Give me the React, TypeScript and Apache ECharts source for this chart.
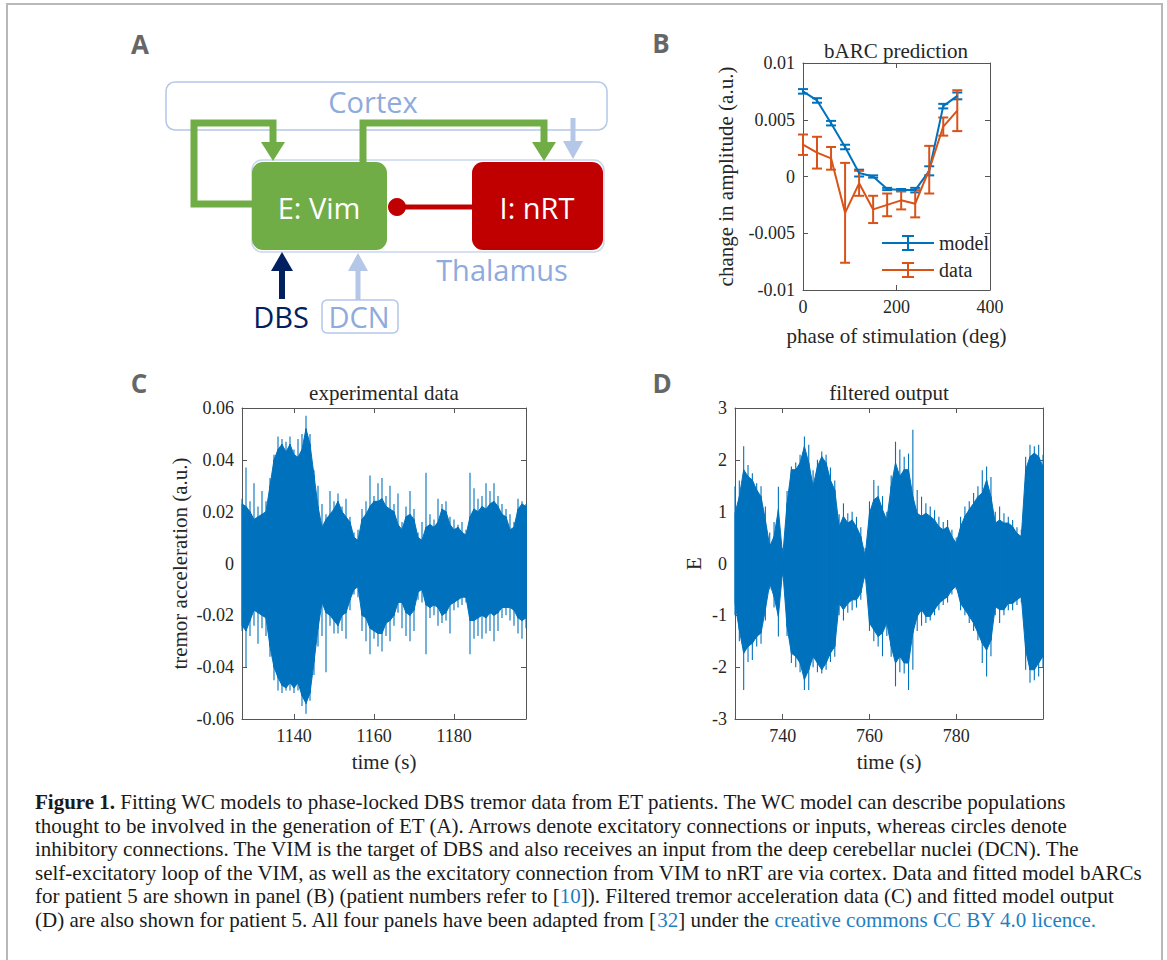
import React, { useEffect, useRef } from "react";
import * as echarts from "echarts";

// ---------- Panel B data (bARC) ----------
const phaseDeg = [0, 30, 60, 90, 120, 150, 180, 210, 240, 270, 300, 330];
const modelMean = [0.0075, 0.0067, 0.0047, 0.0026, 0.0003, 0.0, -0.0011, -0.0012, -0.0012, 0.0005, 0.0062, 0.0071];
const modelErr = [0.0002, 0.0002, 0.0002, 0.0002, 0.0003, 0.0001, 0.0001, 0.0001, 0.0002, 0.0004, 0.0002, 0.0003];
const dataMean = [0.0028, 0.0021, 0.0016, -0.0032, -0.0006, -0.0029, -0.0025, -0.0021, -0.0024, 0.0006, 0.0044, 0.0058];
const dataErr = [0.0009, 0.0014, 0.001, 0.0044, 0.0011, 0.0012, 0.001, 0.0008, 0.0012, 0.0021, 0.0008, 0.0018];

// ---------- Panel C data (experimental tremor, 1 s bins from 1127 s) ----------
const cStart = 1127;
const cCoreHi = [
  0.023, 0.022, 0.02, 0.017, 0.018, 0.019, 0.02, 0.03, 0.04, 0.044,
  0.046, 0.043, 0.046, 0.042, 0.041, 0.044, 0.052, 0.046, 0.034, 0.022,
  0.014, 0.017, 0.019, 0.021, 0.024, 0.02, 0.018, 0.016, 0.01, 0.009,
  0.017, 0.019, 0.022, 0.024, 0.024, 0.025, 0.022, 0.021, 0.02, 0.015,
  0.013, 0.018, 0.019, 0.017, 0.01, 0.009, 0.014, 0.015, 0.014, 0.016,
  0.021, 0.02, 0.015, 0.013, 0.014, 0.012, 0.011, 0.018, 0.021, 0.02,
  0.022, 0.021, 0.023, 0.024, 0.022, 0.019, 0.018, 0.013, 0.014, 0.021,
  0.023, 0.022,
];
const cCoreLo = [
  -0.024, -0.026, -0.022, -0.018, -0.019, -0.02, -0.021, -0.032, -0.04, -0.044,
  -0.047, -0.048, -0.046, -0.048, -0.046, -0.051, -0.054, -0.05, -0.038, -0.025,
  -0.015, -0.019, -0.02, -0.022, -0.024, -0.02, -0.019, -0.014, -0.01, -0.009,
  -0.02, -0.021, -0.025, -0.026, -0.027, -0.027, -0.023, -0.022, -0.02, -0.015,
  -0.015, -0.019, -0.02, -0.018, -0.011, -0.01, -0.016, -0.017, -0.016, -0.017,
  -0.02, -0.019, -0.016, -0.015, -0.014, -0.013, -0.013, -0.022, -0.022, -0.021,
  -0.02, -0.021, -0.019, -0.02, -0.019, -0.017, -0.017, -0.017, -0.018, -0.021,
  -0.022, -0.021,
];
const cPeakHi = [
  0.025, 0.037, 0.024, 0.031, 0.022, 0.028, 0.024, 0.033, 0.042, 0.049,
  0.048, 0.047, 0.049, 0.044, 0.048, 0.05, 0.057, 0.05, 0.036, 0.03,
  0.023, 0.019, 0.028, 0.024, 0.027, 0.022, 0.025, 0.018, 0.012, 0.013,
  0.021, 0.024, 0.034, 0.026, 0.031, 0.033, 0.026, 0.03, 0.023, 0.027,
  0.016, 0.022, 0.028, 0.021, 0.012, 0.016, 0.035, 0.019, 0.017, 0.025,
  0.023, 0.024, 0.018, 0.017, 0.015, 0.016, 0.013, 0.035, 0.029, 0.025,
  0.026, 0.031, 0.028, 0.031, 0.026, 0.023, 0.021, 0.019, 0.016, 0.025,
  0.024, 0.023,
];
const cPeakLo = [
  -0.026, -0.04, -0.028, -0.024, -0.031, -0.025, -0.028, -0.036, -0.045, -0.049,
  -0.05, -0.049, -0.049, -0.05, -0.049, -0.055, -0.058, -0.053, -0.043, -0.032,
  -0.028, -0.042, -0.024, -0.027, -0.027, -0.026, -0.029, -0.018, -0.012, -0.013,
  -0.026, -0.03, -0.035, -0.029, -0.032, -0.034, -0.028, -0.03, -0.024, -0.019,
  -0.025, -0.028, -0.03, -0.026, -0.014, -0.015, -0.035, -0.021, -0.02, -0.024,
  -0.023, -0.022, -0.027, -0.018, -0.017, -0.016, -0.015, -0.035, -0.029, -0.028,
  -0.029, -0.027, -0.026, -0.03, -0.026, -0.021, -0.02, -0.022, -0.024, -0.027,
  -0.029, -0.025,
];
const cTicks = [1140, 1160, 1180];

// ---------- Panel D data (filtered model output, 1 s bins from 729 s) ----------
const dStart = 729;
const dCoreHi = [
  0.97, 1.29, 1.81, 1.68, 1.61, 1.42, 1.29, 0.84, 0.33, 0.52,
  1.04, 0.14, 1.16, 1.81, 1.81, 1.94, 2.26, 1.94, 1.49, 1.87,
  2.06, 1.94, 1.61, 1.42, 0.71, 0.91, 0.78, 0.84, 0.71, 0.52,
  0.14, 0.97, 1.23, 1.29, 1.04, 0.84, 1.49, 1.94, 1.68, 1.81,
  1.81, 1.29, 0.97, 0.91, 0.97, 0.91, 0.84, 0.71, 0.65, 0.71,
  0.52, 0.39, 0.71, 0.91, 1.04, 1.16, 1.29, 1.36, 1.61, 1.29,
  0.78, 0.84, 0.78, 0.78, 0.71, 0.58, 0.52, 1.81, 2.06, 2.13,
  2.06, 1.87,
];
const dCoreLo = [
  -0.77, -1.28, -1.73, -1.6, -1.54, -1.41, -1.34, -0.89, -0.38, -0.64,
  -1.02, -0.12, -1.22, -1.73, -1.79, -1.92, -2.24, -2.05, -1.79, -1.92,
  -2.05, -1.92, -1.73, -1.6, -0.77, -0.89, -0.77, -0.7, -0.7, -0.57,
  -0.19, -1.15, -1.28, -1.41, -1.34, -1.15, -1.6, -1.92, -1.79, -1.92,
  -1.92, -1.34, -1.02, -0.89, -1.02, -1.02, -0.89, -0.77, -0.7, -0.64,
  -0.51, -0.44, -0.77, -0.89, -1.02, -1.15, -1.34, -1.54, -1.67, -1.48,
  -0.83, -0.89, -0.89, -0.77, -0.77, -0.7, -0.64, -1.67, -2.05, -2.05,
  -1.92, -1.79,
];
const dPeakHi = [
  1.49, 1.6, 2.26, 1.9, 1.74, 1.55, 1.49, 1.1, 0.6, 0.8,
  1.48, 0.3, 1.4, 1.87, 1.95, 2.1, 2.45, 2.29, 1.8, 2.0,
  2.16, 2.1, 1.85, 1.6, 0.95, 1.16, 0.97, 1.0, 0.9, 0.7,
  0.3, 1.2, 1.61, 1.5, 1.3, 1.0, 1.7, 2.35, 2.2, 2.06,
  2.12, 2.58, 1.42, 1.29, 1.16, 1.1, 1.03, 0.9, 0.8, 0.84,
  0.65, 0.5, 0.9, 1.1, 1.2, 1.36, 1.49, 1.8, 1.87, 1.67,
  1.0, 1.1, 0.97, 0.9, 0.84, 0.7, 0.65, 2.06, 2.29, 2.26,
  2.29, 2.1,
];
const dPeakLo = [
  -1.0, -1.5, -2.44, -1.9, -1.86, -1.6, -1.55, -1.1, -0.5, -0.85,
  -1.41, -0.25, -1.4, -1.92, -2.0, -2.1, -2.44, -2.44, -2.0, -2.1,
  -2.12, -2.05, -1.9, -1.8, -1.0, -1.1, -0.95, -0.9, -0.85, -0.7,
  -0.3, -1.3, -1.5, -1.6, -1.79, -1.4, -1.8, -2.37, -2.1, -2.12,
  -2.44, -2.05, -1.3, -1.2, -1.15, -1.1, -1.0, -0.9, -0.8, -0.75,
  -0.6, -0.5, -0.9, -1.0, -1.15, -1.3, -1.48, -1.92, -2.18, -1.79,
  -1.0, -1.15, -1.0, -0.9, -0.9, -0.8, -0.75, -2.05, -2.3, -2.25,
  -2.18, -2.0,
];
const dTicks = [740, 760, 780];

// ---------- Caption ----------
const captionLines = [
  "{b|Figure 1.} Fitting WC models to phase-locked DBS tremor data from ET patients. The WC model can describe populations",
  "thought to be involved in the generation of ET (A). Arrows denote excitatory connections or inputs, whereas circles denote",
  "inhibitory connections. The VIM is the target of DBS and also receives an input from the deep cerebellar nuclei (DCN). The",
  "self-excitatory loop of the VIM, as well as the excitatory connection from VIM to nRT are via cortex. Data and fitted model bARCs",
  "for patient 5 are shown in panel (B) (patient numbers refer to [{l|10}]). Filtered tremor acceleration data (C) and fitted model output",
  "(D) are also shown for patient 5. All four panels have been adapted from [{l|32}] under the {l|creative commons CC BY 4.0 licence.}",
];

// ---------- Styles ----------
const BLUE = "#0072BD";
const ORANGE = "#D95319";
const SERIF = "'Liberation Serif', 'Times New Roman', serif";
const SANS = "'Open Sans', 'Noto Sans', sans-serif";
const BOX = "#555555";
const TXT = "#262626";
const LBL = 18;
const NAME = 21;
const CAP = 21;
const LB = "#b4c7e7";
const LBT = "#8faadc";
const GREEN = "#70ad47";
const RED = "#c00000";
const NAVY = "#002060";

const fmt = (v: number) => String(+Number(v).toFixed(6));

function makeAxis(o: any) {
  const showLabel = o.showLabel !== false;
  const ax: any = {
    type: "value",
    gridIndex: o.grid,
    position: o.position,
    min: o.min,
    max: o.max,
    axisLine: { show: true, onZero: false, lineStyle: { color: BOX, width: 1 } },
    axisTick: { show: true, inside: true, length: 5, lineStyle: { color: BOX, width: 1 } },
    splitLine: { show: false },
    axisLabel: {
      show: showLabel,
      color: TXT,
      fontFamily: SERIF,
      fontSize: LBL,
      margin: o.margin ?? 8,
      formatter: fmt,
    },
  };
  if (o.interval !== undefined) ax.interval = o.interval;
  if (o.customValues) {
    ax.axisTick.customValues = o.customValues;
    ax.axisLabel.customValues = o.customValues;
  }
  if (o.name) {
    ax.name = o.name;
    ax.nameLocation = "middle";
    ax.nameGap = o.nameGap;
    ax.nameTextStyle = { color: TXT, fontFamily: SERIF, fontSize: NAME };
  }
  return ax;
}

function errorRender(color: string) {
  return (params: any, api: any) => {
    const x = api.value(0);
    const m = api.value(1);
    const e = api.value(2);
    const top = api.coord([x, m + e]);
    const bot = api.coord([x, m - e]);
    const cap = 5;
    const st = { stroke: color, lineWidth: 2 };
    return {
      type: "group",
      children: [
        { type: "line", shape: { x1: top[0], y1: top[1], x2: bot[0], y2: bot[1] }, style: st },
        { type: "line", shape: { x1: top[0] - cap, y1: top[1], x2: top[0] + cap, y2: top[1] }, style: st },
        { type: "line", shape: { x1: bot[0] - cap, y1: bot[1], x2: bot[0] + cap, y2: bot[1] }, style: st },
      ],
    };
  };
}

// Each item: [t0, lo0, hi0, t1, lo1, hi1, peakLo0, peakHi0]
function bandRender(params: any, api: any) {
  const t0 = api.value(0);
  const t1 = api.value(3);
  const a = api.coord([t0, api.value(2)]);
  const b = api.coord([t1, api.value(5)]);
  const c = api.coord([t1, api.value(4)]);
  const d = api.coord([t0, api.value(1)]);
  const pLo = api.coord([t0, api.value(6)]);
  const pHi = api.coord([t0, api.value(7)]);
  return {
    type: "group",
    children: [
      {
        type: "polygon",
        shape: { points: [a, b, c, d] },
        style: { fill: BLUE, stroke: BLUE, lineWidth: 1 },
      },
      {
        type: "line",
        shape: { x1: pLo[0], y1: pLo[1], x2: pHi[0], y2: pHi[1] },
        style: { stroke: BLUE, lineWidth: 1.1 },
      },
    ],
  };
}

function signalSeries(axisIdx: number, start: number, hi: number[], lo: number[], pHi: number[], pLo: number[]) {
  const items: number[][] = [];
  for (let i = 0; i < hi.length; i++) {
    const j = Math.min(i + 1, hi.length - 1);
    items.push([start + i, lo[i], hi[i], start + j, lo[j], hi[j], pLo[i], pHi[i]]);
  }
  return {
    type: "custom",
    xAxisIndex: axisIdx,
    yAxisIndex: axisIdx,
    silent: true,
    renderItem: bandRender,
    encode: { x: [0, 3], y: [1, 2, 4, 5, 6, 7] },
    data: items,
  };
}

const LEGEND_ICON =
  "path://M0,7L52,7L52,9L0,9Z M25,1L27,1L27,15L25,15Z M20,0L32,0L32,2L20,2Z M20,14L32,14L32,16L20,16Z";

function txt(x: number, y: number, text: string, size: number, fill: string, opts: any = {}) {
  return {
    type: "text",
    x,
    y,
    silent: true,
    style: {
      text,
      fontSize: size,
      fontFamily: opts.family || SANS,
      fontWeight: opts.weight || "normal",
      fill,
      align: opts.align || "center",
      textAlign: opts.align || "center",
      verticalAlign: "middle",
      textVerticalAlign: "middle",
      rich: opts.rich,
    },
  };
}

function buildOption() {
  const C_MIN = cStart;
  const C_MAX = cStart + cCoreHi.length - 1;
  const D_MIN = dStart;
  const D_MAX = dStart + dCoreHi.length - 1;

  const xAxis = [
    makeAxis({ grid: 0, position: "bottom", min: 0, max: 400, interval: 200, name: "phase of stimulation (deg)", nameGap: 35 }),
    makeAxis({ grid: 0, position: "top", min: 0, max: 400, interval: 200, showLabel: false }),
    makeAxis({ grid: 1, position: "bottom", min: C_MIN, max: C_MAX, customValues: cTicks, name: "time (s)", nameGap: 32 }),
    makeAxis({ grid: 1, position: "top", min: C_MIN, max: C_MAX, customValues: cTicks, showLabel: false }),
    makeAxis({ grid: 2, position: "bottom", min: D_MIN, max: D_MAX, customValues: dTicks, name: "time (s)", nameGap: 32 }),
    makeAxis({ grid: 2, position: "top", min: D_MIN, max: D_MAX, customValues: dTicks, showLabel: false }),
  ];
  const yAxis = [
    makeAxis({ grid: 0, position: "left", min: -0.01, max: 0.01, interval: 0.005, name: "change in amplitude (a.u.)", nameGap: 67 }),
    makeAxis({ grid: 0, position: "right", min: -0.01, max: 0.01, interval: 0.005, showLabel: false }),
    makeAxis({ grid: 1, position: "left", min: -0.06, max: 0.06, interval: 0.02, name: "tremor acceleration (a.u.)", nameGap: 52 }),
    makeAxis({ grid: 1, position: "right", min: -0.06, max: 0.06, interval: 0.02, showLabel: false }),
    makeAxis({ grid: 2, position: "left", min: -3, max: 3, interval: 1, name: "E", nameGap: 31 }),
    makeAxis({ grid: 2, position: "right", min: -3, max: 3, interval: 1, showLabel: false }),
  ];

  const series: any[] = [
    {
      name: "model",
      type: "line",
      xAxisIndex: 0,
      yAxisIndex: 0,
      symbol: "none",
      lineStyle: { color: BLUE, width: 2 },
      itemStyle: { color: BLUE },
      data: phaseDeg.map((p, i) => [p, modelMean[i]]),
    },
    {
      type: "custom",
      xAxisIndex: 0,
      yAxisIndex: 0,
      renderItem: errorRender(BLUE),
      data: phaseDeg.map((p, i) => [p, modelMean[i], modelErr[i]]),
    },
    {
      name: "data",
      type: "line",
      xAxisIndex: 0,
      yAxisIndex: 0,
      symbol: "none",
      lineStyle: { color: ORANGE, width: 2 },
      itemStyle: { color: ORANGE },
      data: phaseDeg.map((p, i) => [p, dataMean[i]]),
    },
    {
      type: "custom",
      xAxisIndex: 0,
      yAxisIndex: 0,
      renderItem: errorRender(ORANGE),
      data: phaseDeg.map((p, i) => [p, dataMean[i], dataErr[i]]),
    },
    signalSeries(2, cStart, cCoreHi, cCoreLo, cPeakHi, cPeakLo),
    signalSeries(4, dStart, dCoreHi, dCoreLo, dPeakHi, dPeakLo),
  ];

  const captionRich = {
    b: { fontWeight: "bold", fontFamily: SERIF, fontSize: CAP, fill: "#1a1a1a" },
    l: { fontFamily: SERIF, fontSize: CAP, fill: "#1f7fc0" },
  };

  const graphic: any[] = [
    // outer frame
    { type: "rect", silent: true, shape: { x: 7, y: 4, width: 1155, height: 1000 }, style: { fill: "none", stroke: "#b8b8b8", lineWidth: 2 } },

    // panel letters
    txt(140, 44, "A", 26, "#666666", { weight: "bold" }),
    txt(661, 43, "B", 26, "#666666", { weight: "bold" }),
    txt(139, 383, "C", 26, "#666666", { weight: "bold" }),
    txt(662, 383, "D", 26, "#666666", { weight: "bold" }),

    // panel titles
    txt(896, 51, "bARC prediction", NAME, TXT, { family: SERIF }),
    txt(384, 393, "experimental data", NAME, TXT, { family: SERIF }),
    txt(889, 393, "filtered output", NAME, TXT, { family: SERIF }),

    // --- Panel A diagram ---
    { type: "rect", silent: true, shape: { x: 166, y: 82, width: 441, height: 48, r: 9 }, style: { fill: "none", stroke: LB, lineWidth: 1.5 } },
    { type: "rect", silent: true, shape: { x: 252, y: 160, width: 352, height: 92, r: 10 }, style: { fill: "none", stroke: "#c9d6ee", lineWidth: 1.5 } },
    txt(373, 101, "Cortex", 29, LBT),
    txt(502, 269, "Thalamus", 29, LBT),

    // green self loop
    { type: "polyline", silent: true, shape: { points: [[254, 204], [194, 204], [194, 123], [273, 123], [273, 144]] }, style: { stroke: GREEN, lineWidth: 7, fill: "none", lineJoin: "miter" } },
    { type: "polygon", silent: true, shape: { points: [[261, 142], [285, 142], [273, 161]] }, style: { fill: GREEN } },
    // green Vim -> nRT
    { type: "polyline", silent: true, shape: { points: [[363, 164], [363, 123], [544, 123], [544, 144]] }, style: { stroke: GREEN, lineWidth: 7, fill: "none", lineJoin: "miter" } },
    { type: "polygon", silent: true, shape: { points: [[532, 142], [556, 142], [544, 161]] }, style: { fill: GREEN } },
    // light blue cortex -> nRT
    { type: "line", silent: true, shape: { x1: 573, y1: 118, x2: 573, y2: 144 }, style: { stroke: LB, lineWidth: 5 } },
    { type: "polygon", silent: true, shape: { points: [[563, 141], [583, 141], [573, 159]] }, style: { fill: LB } },

    // boxes
    { type: "rect", silent: true, shape: { x: 252, y: 162, width: 135, height: 88, r: 11 }, style: { fill: GREEN } },
    { type: "rect", silent: true, shape: { x: 472, y: 162, width: 131, height: 88, r: 11 }, style: { fill: RED } },
    txt(319, 207, "E: Vim", 29, "#ffffff"),
    txt(537, 207, "I: nRT", 29, "#ffffff"),

    // inhibitory connection
    { type: "line", silent: true, shape: { x1: 397, y1: 207, x2: 473, y2: 207 }, style: { stroke: RED, lineWidth: 5 } },
    { type: "circle", silent: true, shape: { cx: 397, cy: 207, r: 9 }, style: { fill: RED } },

    // DBS input
    { type: "line", silent: true, shape: { x1: 282, y1: 299, x2: 282, y2: 268 }, style: { stroke: NAVY, lineWidth: 6 } },
    { type: "polygon", silent: true, shape: { points: [[271, 271], [293, 271], [282, 252]] }, style: { fill: NAVY } },
    txt(281, 316, "DBS", 29, NAVY),

    // DCN input
    { type: "line", silent: true, shape: { x1: 358, y1: 300, x2: 358, y2: 268 }, style: { stroke: LB, lineWidth: 5 } },
    { type: "polygon", silent: true, shape: { points: [[348, 271], [368, 271], [358, 253]] }, style: { fill: LB } },
    { type: "rect", silent: true, shape: { x: 322, y: 300, width: 76, height: 33, r: 5 }, style: { fill: "none", stroke: LB, lineWidth: 1.5 } },
    txt(359, 316, "DCN", 29, LBT),

    // caption
    ...captionLines.map((line, i) =>
      txt(35, 802 + i * 23.6, line, CAP, "#1a1a1a", { family: SERIF, align: "left", rich: captionRich })
    ),
  ];

  return {
    animation: false,
    backgroundColor: "#ffffff",
    grid: [
      { left: 803, top: 63, width: 187, height: 227, containLabel: false },
      { left: 242, top: 408, width: 284, height: 311, containLabel: false },
      { left: 735, top: 408, width: 308, height: 311, containLabel: false },
    ],
    legend: {
      data: [
        { name: "model", icon: LEGEND_ICON },
        { name: "data", icon: LEGEND_ICON },
      ],
      orient: "vertical",
      left: 882,
      top: 233,
      itemWidth: 52,
      itemHeight: 16,
      itemGap: 7,
      padding: 0,
      selectedMode: false,
      textStyle: { fontFamily: SERIF, fontSize: 20, color: TXT },
    },
    xAxis,
    yAxis,
    series,
    graphic,
  };
}

export default function App() {
  const ref = useRef<HTMLDivElement>(null);
  useEffect(() => {
    if (!ref.current) return;
    const chart = echarts.init(ref.current, null, { renderer: "svg", width: 1167, height: 960 });
    chart.setOption(buildOption() as any);
    return () => chart.dispose();
  }, []);
  return (
    <div
      ref={ref}
      style={{ position: "absolute", left: 0, top: 0, width: 1167, height: 960, background: "#ffffff" }}
    />
  );
}
